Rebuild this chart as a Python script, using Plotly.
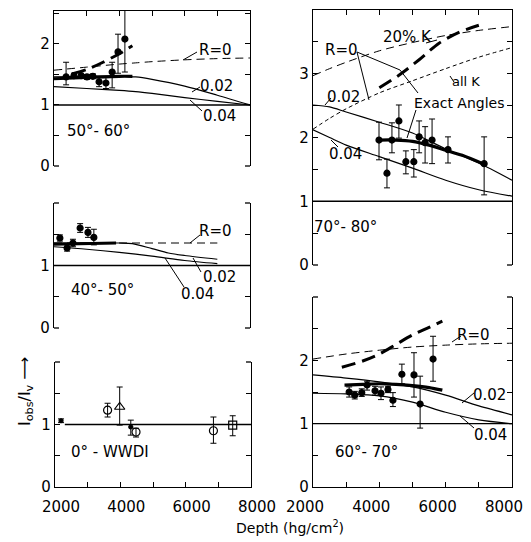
import plotly.graph_objects as go

W, H = 531, 542
OFF = 8  # page body margin of the rendered html

# ---------------- data ----------------
depth_ticks = [2000, 3000, 4000, 5000, 6000, 7000, 8000]
depth_ticktext = ["2000", "", "4000", "", "6000", "", "8000"]

# 50-60 deg panel
tl_depth = [2370, 2610, 2830, 3010, 3190, 3380, 3590, 3780, 3960, 4170]
tl_ratio = [1.46, 1.48, 1.48, 1.46, 1.47, 1.38, 1.36, 1.54, 1.87, 2.08]
tl_hi = [1.70, 1.52, 1.52, 1.50, 1.51, 1.45, 1.45, 1.70, 2.16, 2.62]
tl_lo = [1.33, 1.44, 1.44, 1.42, 1.43, 1.30, 1.27, 1.28, 1.52, 1.54]
tl_curve_x = [2000, 3000, 4000, 4500, 5000, 6000, 7000, 8000]
tl_r0 = [1.57, 1.62, 1.67, 1.69, 1.71, 1.74, 1.76, 1.77]
tl_r002 = [1.46, 1.47, 1.47, 1.46, 1.42, 1.31, 1.16, 1.00]
tl_r004 = [1.30, 1.27, 1.24, 1.22, 1.19, 1.12, 1.06, 1.00]
tl_exact_x = [2000, 3000, 4000, 4400]
tl_exact = [1.43, 1.45, 1.47, 1.47]
tl_thick_dash_x = [2550, 3000, 3500, 4000, 4400]
tl_thick_dash = [1.51, 1.58, 1.70, 1.84, 1.97]

# 40-50 deg panel
ml_depth = [2180, 2400, 2580, 2800, 3040, 3220]
ml_ratio = [1.44, 1.28, 1.36, 1.60, 1.53, 1.45]
ml_hi = [1.49, 1.33, 1.42, 1.67, 1.61, 1.58]
ml_lo = [1.39, 1.23, 1.30, 1.53, 1.45, 1.33]
ml_r0_x = [2000, 7000]
ml_r0 = [1.36, 1.36]
ml_r002_x = [2000, 4000, 4400, 5000, 5500, 6000, 7000]
ml_r002 = [1.36, 1.36, 1.35, 1.27, 1.20, 1.16, 1.10]
ml_r004_x = [2000, 3000, 4000, 5000, 6000, 7000]
ml_r004 = [1.30, 1.26, 1.21, 1.15, 1.08, 1.03]
ml_exact_x = [2000, 3900]
ml_exact = [1.34, 1.36]

# 0 deg - WWDI panel
bl_fill_depth = [2185, 4320]
bl_fill_ratio = [1.06, 0.96]
bl_fill_hi = [1.09, 1.07]
bl_fill_lo = [1.03, 0.83]
bl_circ_depth = [3610, 4480, 6850]
bl_circ_ratio = [1.23, 0.88, 0.90]
bl_circ_hi = [1.34, 0.94, 1.12]
bl_circ_lo = [1.12, 0.80, 0.70]
bl_tri_depth = [3980]
bl_tri_ratio = [1.28]
bl_tri_hi = [1.60]
bl_tri_lo = [0.99]
bl_sq_depth = [7440]
bl_sq_ratio = [0.99]
bl_sq_hi = [1.14]
bl_sq_lo = [0.82]

# 70-80 deg panel
tr_depth = [3990, 4230, 4380, 4590, 4800, 5040, 5200, 5380, 5590, 6070, 7160]
tr_ratio = [1.96, 1.44, 1.96, 2.26, 1.62, 1.62, 2.01, 1.92, 1.96, 1.81, 1.59]
tr_hi = [2.24, 1.66, 2.23, 2.51, 1.79, 1.81, 2.26, 2.17, 2.29, 2.01, 2.01]
tr_lo = [1.65, 1.21, 1.76, 1.99, 1.43, 1.38, 1.76, 1.60, 1.59, 1.60, 1.10]
tr_curve_x = [2000, 2500, 3000, 4000, 5000, 6000, 7000, 8000]
tr_r002 = [2.51, 2.48, 2.40, 2.24, 2.07, 1.82, 1.60, 1.33]
tr_r004 = [2.12, 2.00, 1.88, 1.70, 1.52, 1.33, 1.18, 1.08]
tr_20k = [2.97, 3.08, 3.18, 3.36, 3.49, 3.60, 3.68, 3.74]
tr_allk = [2.13, 2.30, 2.45, 2.70, 2.89, 3.08, 3.26, 3.41]
tr_exact_x = [4000, 4500, 5000, 5500, 6000, 6500, 7200]
tr_exact = [1.96, 1.96, 1.94, 1.88, 1.80, 1.72, 1.57]
tr_thick_dash_x = [4000, 4600, 5200, 5800, 6400, 7000]
tr_thick_dash = [2.78, 2.98, 3.22, 3.48, 3.65, 3.76]

# 60-70 deg panel
br_depth = [3090, 3260, 3470, 3630, 3870, 4050, 4260, 4410, 4680, 5045, 5230, 5620]
br_ratio = [1.50, 1.45, 1.49, 1.61, 1.52, 1.48, 1.54, 1.37, 1.78, 1.77, 1.31, 2.02]
br_hi = [1.58, 1.51, 1.55, 1.67, 1.59, 1.58, 1.59, 1.49, 1.94, 2.12, 1.75, 2.38]
br_lo = [1.42, 1.39, 1.43, 1.53, 1.45, 1.38, 1.49, 1.27, 1.63, 1.42, 0.93, 1.67]
br_curve_x = [2000, 3000, 4000, 5000, 6000, 7000, 8000]
br_r0 = [2.02, 2.10, 2.16, 2.21, 2.24, 2.26, 2.27]
br_r002 = [1.77, 1.72, 1.66, 1.58, 1.45, 1.28, 1.14]
br_r004 = [1.48, 1.47, 1.44, 1.34, 1.18, 1.06, 1.00]
br_exact_x = [2950, 3500, 4000, 4500, 5000, 5500, 5900]
br_exact = [1.61, 1.62, 1.63, 1.62, 1.60, 1.57, 1.53]
br_thick_dash_x = [2870, 3500, 4000, 4500, 5000, 5500, 5900]
br_thick_dash = [1.89, 1.99, 2.10, 2.25, 2.40, 2.52, 2.62]

# ---------------- layout geometry (pixels in the final page) ----------------
panels = {
    1: dict(x=(54, 250), y=(11, 166), yr=2.54),   # 50-60
    2: dict(x=(54, 250), y=(203, 328), yr=2.0),   # 40-50
    3: dict(x=(55, 251), y=(362, 487), yr=2.0),   # 0 WWDI
    4: dict(x=(313, 512), y=(10, 265), yr=4.0),   # 70-80
    5: dict(x=(313, 512), y=(297, 487), yr=3.0),  # 60-70
}

FW, FH = W - OFF, H - OFF

def fx(px):
    return (px - OFF) / FW

def fy(py):
    return 1 - (py - OFF) / FH

FONT = "DejaVu Sans"
fig = go.Figure()

def ax_names(i):
    return ("x" if i == 1 else f"x{i}"), ("y" if i == 1 else f"y{i}")

def add_line(i, xs, ys, width=1.2, dash="solid", shape="spline"):
    xa, ya = ax_names(i)
    fig.add_trace(go.Scatter(x=xs, y=ys, mode="lines", xaxis=xa, yaxis=ya,
                             line=dict(color="black", width=width, dash=dash, shape=shape,
                                       smoothing=0.8),
                             showlegend=False, hoverinfo="skip"))

def add_points(i, xs, ys, hi, lo, symbol="circle", size=6, fill="black"):
    xa, ya = ax_names(i)
    fig.add_trace(go.Scatter(
        x=xs, y=ys, mode="markers", xaxis=xa, yaxis=ya,
        marker=dict(symbol=symbol, size=size, color=fill,
                    line=dict(color="black", width=1.2)),
        error_y=dict(type="data", symmetric=False,
                     array=[h - v for h, v in zip(hi, ys)],
                     arrayminus=[v - l for l, v in zip(lo, ys)],
                     color="black", thickness=1, width=3),
        showlegend=False, hoverinfo="skip"))

THIN_DASH = "8px,5px"
SHORT_DASH = "4px,3px"
THICK_DASH = "14px,7px"

# panel 1
add_line(1, tl_curve_x, tl_r0, 1, THIN_DASH)
add_line(1, tl_curve_x, tl_r002)
add_line(1, tl_curve_x, tl_r004)
add_line(1, tl_exact_x, tl_exact, 3.2)
add_line(1, tl_thick_dash_x, tl_thick_dash, 3, THICK_DASH)
add_points(1, tl_depth, tl_ratio, tl_hi, tl_lo)

# panel 2
add_line(2, ml_r0_x, ml_r0, 1, THIN_DASH, "linear")
add_line(2, ml_r002_x, ml_r002)
add_line(2, ml_r004_x, ml_r004)
add_line(2, ml_exact_x, ml_exact, 3.2)
add_points(2, ml_depth, ml_ratio, ml_hi, ml_lo)

# panel 3
add_points(3, bl_fill_depth, bl_fill_ratio, bl_fill_hi, bl_fill_lo, "circle", 4)
add_points(3, bl_circ_depth, bl_circ_ratio, bl_circ_hi, bl_circ_lo, "circle-open", 8, "black")
add_points(3, bl_tri_depth, bl_tri_ratio, bl_tri_hi, bl_tri_lo, "triangle-up-open", 9, "black")
add_points(3, bl_sq_depth, bl_sq_ratio, bl_sq_hi, bl_sq_lo, "square-open", 8, "black")

# panel 4
add_line(4, tr_curve_x, tr_20k, 1, THIN_DASH)
add_line(4, tr_curve_x, tr_allk, 1, SHORT_DASH)
add_line(4, tr_curve_x, tr_r002)
add_line(4, tr_curve_x, tr_r004)
add_line(4, tr_exact_x, tr_exact, 3.2)
add_line(4, tr_thick_dash_x, tr_thick_dash, 3, THICK_DASH)
add_points(4, tr_depth, tr_ratio, tr_hi, tr_lo)

# panel 5
add_line(5, br_curve_x, br_r0, 1, THIN_DASH)
add_line(5, br_curve_x, br_r002)
add_line(5, br_curve_x, br_r004)
add_line(5, br_exact_x, br_exact, 3.2)
add_line(5, br_thick_dash_x, br_thick_dash, 3, THICK_DASH)
add_points(5, br_depth, br_ratio, br_hi, br_lo)

# ---------------- axes ----------------
layout = dict(width=FW, height=FH, margin=dict(l=0, r=0, t=0, b=0, autoexpand=False),
              paper_bgcolor="white", plot_bgcolor="white", showlegend=False,
              font=dict(family=FONT, color="black"))
shapes = []
for i, p in panels.items():
    xa, ya = ax_names(i)
    xkey = "xaxis" if i == 1 else f"xaxis{i}"
    ykey = "yaxis" if i == 1 else f"yaxis{i}"
    yr = p["yr"]
    yt = [k * 0.5 for k in range(int(yr / 0.5) + 1)]
    ytt = [str(int(v)) if (v == int(v) and v < yr - 0.01) else " " for v in yt]
    if i == 4:
        ytt = ["0", " ", "1", " ", "2", " ", "3", " ", " "]
    bottom = i in (3, 5)
    top_line = i in (1, 4)
    xaxis = dict(domain=[fx(p["x"][0]), fx(p["x"][1])], range=[2000, 8000],
                 anchor=ya, showgrid=False, zeroline=False, automargin=False,
                 tickvals=depth_ticks, ticktext=depth_ticktext,
                 tickfont=dict(size=15, family=FONT, color="black"),
                 linecolor="black", linewidth=1.3, tickcolor="black",
                 ticklen=5, tickwidth=1.2)
    if bottom:
        xaxis.update(showline=True, ticks="inside", showticklabels=True, side="bottom",
                     ticklabelshift=(6 if i == 3 else -8), ticklabelstandoff=6,
                     ticklabeloverflow="allow")
    elif top_line:
        xaxis.update(showline=True, ticks="inside", showticklabels=False, side="top")
    else:
        xaxis.update(showline=False, ticks="", showticklabels=False)
    yaxis = dict(domain=[fy(p["y"][1]), fy(p["y"][0])], range=[0, yr],
                 anchor=xa, showgrid=False, zeroline=False, showline=True, automargin=False,
                 mirror="ticks", ticks="inside", tickvals=yt, ticktext=ytt,
                 ticklen=5, tickwidth=1.2, tickcolor="black",
                 linecolor="black", linewidth=1.3,
                 tickfont=dict(size=15, family=FONT, color="black"))
    layout[xkey] = xaxis
    layout[ykey] = yaxis
    # reference line at ratio 1
    shapes.append(dict(type="line", xref=f"{xa} domain", yref=ya,
                       x0=(0.05 if i == 3 else 0), x1=1, y0=1, y1=1,
                       line=dict(color="black", width=1.4)))
    # serifs at ends of the y axes
    x0, x1 = p["x"]
    y0, y1 = p["y"]
    ends = []
    if not top_line:
        ends.append(y0)
    if not bottom:
        ends.append(y1)
    for yy in ends:
        shapes.append(dict(type="line", xref="paper", yref="paper", x0=fx(x0), x1=fx(x0 + 5),
                           y0=fy(yy), y1=fy(yy), line=dict(color="black", width=1.3)))
        shapes.append(dict(type="line", xref="paper", yref="paper", x0=fx(x1 - 5), x1=fx(x1),
                           y0=fy(yy), y1=fy(yy), line=dict(color="black", width=1.3)))

# leader lines (pixel positions)
leaders = [
    # panel 1
    [(183, 60), (197, 52)], [(192, 92), (200, 87)], [(190, 100), (202, 111)],
    # panel 2
    [(190, 243), (200, 235)], [(193, 258), (201, 272)], [(165, 258), (184, 287)],
    # panel 4
    [(357, 52), (369, 100)], [(357, 52), (400, 70), (418, 93)], [(416, 110), (407, 138)],
    [(325, 105), (331, 98)], [(331, 140), (338, 147)], [(426, 43), (437, 40)],
    [(450, 76), (454, 82)],
    # panel 5
    [(452, 342), (461, 336)], [(462, 403), (474, 393)], [(460, 416), (474, 428)],
]
for pts in leaders:
    path = "M " + " L ".join(f"{fx(a):.5f},{fy(b):.5f}" for a, b in pts)
    shapes.append(dict(type="path", xref="paper", yref="paper", path=path,
                       line=dict(color="black", width=1)))
layout["shapes"] = shapes

labels = [
    ("R=0", 215, 50, 15), ("0.02", 216, 86, 15), ("0.04", 219, 116, 15), ("50°- 60°", 98, 131, 15),
    ("R=0", 215, 231, 15), ("0.02", 219, 277, 15), ("0.04", 197, 294, 15), ("40°- 50°", 102, 290, 15),
    ("0° - WWDI", 110, 452, 15),
    ("20% K", 407, 37, 15), ("R=0", 341, 50, 15), ("0.02", 343, 97, 15), ("Exact Angles", 459, 103, 14),
    ("0.04", 345, 154, 15), ("all K", 466, 81, 13), ("70°- 80°", 345, 227, 15),
    ("R=0", 473, 335, 15), ("0.02", 489, 395, 15), ("0.04", 490, 435, 15), ("60°- 70°", 366, 452, 15),
]
ann = []
for txt, px, py, sz in labels:
    ann.append(dict(text=txt, x=fx(px), y=fy(py), xref="paper", yref="paper",
                    showarrow=False, xanchor="center", yanchor="middle",
                    font=dict(size=sz, family=FONT, color="black")))
ann.append(dict(text="I<sub>obs</sub>/I<sub>v</sub> ⟶", x=fx(25), y=fy(392), xref="paper",
                yref="paper", showarrow=False, textangle=-90, xanchor="center",
                yanchor="middle", font=dict(size=16, family=FONT, color="black")))
ann.append(dict(text="Depth (hg/cm<sup>2</sup>)", x=fx(290), y=fy(527), xref="paper",
                yref="paper", showarrow=False, xanchor="center", yanchor="middle",
                font=dict(size=14, family=FONT, color="black")))
layout["annotations"] = ann

fig.update_layout(**layout)
fig.write_html("out.html")
